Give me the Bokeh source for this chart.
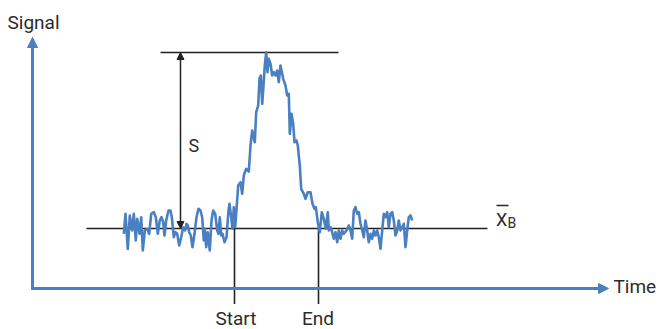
from bokeh.plotting import figure
from bokeh.models import Range1d, Arrow, NormalHead, Label
from bokeh.embed import file_html
from bokeh.resources import INLINE

# ---- data (time units, signal units) ----
time = [91.3, 93, 95.3, 97.3, 99.7, 101.3, 103.3, 104.7, 107, 108.7, 110.3, 112.3, 114.7, 116.7,
        118.7, 121.3, 123.3, 125.3, 127.3, 129, 130.7, 132, 133.7, 136, 138, 139.3, 141.3, 143,
        144.7, 146.7, 148.7, 150.7, 152.7, 154, 155.3, 156.7, 158.3, 160, 162, 164, 166, 168,
        169.7, 171.3, 172.3, 173.7, 175.3, 177.3, 179, 180.7, 182.7, 184.7, 186, 187.3, 188.7,
        190, 192, 194, 196, 197, 198.7, 200, 201.3, 202.7,
        205.7, 208, 209.7, 211.3, 213.7, 216.3, 218, 219.7, 222.3, 223.7, 225.7, 227, 228.3,
        229.7, 231, 232.3, 233.7, 235, 236.3, 238, 239.7, 241.3, 243, 244.7, 246.3, 248, 250.7,
        253, 254.7, 256.3, 257.3, 259, 260.7, 262, 264, 265.3, 267.3, 268.7, 271.3, 273, 275.3,
        278, 280, 282, 283.3, 285.3, 287.3, 289.3, 291.3, 293.3, 295.3,
        296.3, 298, 299.7, 301.3, 303, 304.7, 306.3, 308, 309.7, 311.3, 314, 316.3, 318, 319.7,
        321.3, 323, 324.7, 326.3, 328, 329.7, 331.3, 333, 334.7, 336.3, 338, 339.7, 341.3, 343,
        344.7, 346.3, 348, 349.7, 351.3, 353, 354.7, 356.3, 358, 359.7, 361.3, 363, 364.7, 366.3,
        368, 369.7, 371.3, 373, 374.7, 376.3, 378, 379.7]
signal = [54.7, 74.7, 39.7, 73, 58, 74.7, 48, 69.7, 54.7, 71.3, 38, 58, 59.7, 54.7,
          74.7, 76.3, 71.3, 54.7, 68, 71.3, 66.3, 53, 68, 78, 78, 71.3, 51.3, 56.3,
          54.7, 43, 51.3, 61.3, 58, 64.7, 63, 56.3, 53, 41.3, 54.7, 71.3, 79.7, 78,
          71.3, 48, 59.7, 41.3, 56.3, 38, 68, 78, 74.7, 58, 54.7, 71.3, 53,
          54.7, 46.3, 51.3, 78, 84.7, 71.3, 59.7, 81.3, 61.3,
          103, 106.3, 94.7, 113, 119.7, 117, 143, 158, 146.3, 176.3, 183, 209.7, 213,
          184.7, 203, 223, 236.3, 216.3, 229.7, 224.7, 213, 216.3, 213, 218, 206.3, 223, 209.7,
          203, 193, 194.7, 154.7, 174.7, 164.7, 146.3, 148, 143, 123, 99.7, 94.7, 89.7, 96.3,
          96.3, 84.7, 79.7, 81.3, 66.3, 56.3, 76.3, 69.7, 59.7, 76.3,
          58, 61.3, 56.3, 49.7, 56.3, 46.3, 58, 49.7, 58, 54.7, 58, 63, 58, 49.7,
          78, 81.3, 74.7, 76.3, 64.7, 58, 51.3, 68, 58, 46.3, 54.7, 49.7, 58, 53,
          58, 51.3, 39.7, 58, 74.7, 71.3, 76.3, 61.3, 74.7, 76.3, 68, 53, 58, 68,
          58, 61.3, 64.7, 41.3, 58, 71.3, 73, 68]

baseline_level = 60      # mean background X_B
peak_level = 236         # peak signal
start_time = 202
end_time = 286
axis_time_max = 576
axis_signal_max = 251

BLUE = "#4a7fc1"
DARK = "#222222"
TEXT = "#2b2b2b"
FONT = "Roboto"

p = figure(width=660, height=329, output_backend="svg", toolbar_location=None,
           x_range=Range1d(-32, 628), y_range=Range1d(-41, 288),
           x_axis_type=None, y_axis_type=None, min_border=0)
p.outline_line_color = None
p.grid.visible = False
p.background_fill_color = "white"
p.border_fill_color = "white"

# axes with arrowheads
p.add_layout(Arrow(end=NormalHead(size=10, fill_color=BLUE, line_color=BLUE, line_width=1),
                   x_start=0, y_start=0, x_end=0, y_end=axis_signal_max,
                   line_color=BLUE, line_width=3))
p.add_layout(Arrow(end=NormalHead(size=10, fill_color=BLUE, line_color=BLUE, line_width=1),
                   x_start=-1.5, y_start=0, x_end=axis_time_max, y_end=0,
                   line_color=BLUE, line_width=3))

# reference lines
p.segment(x0=[54], y0=[baseline_level], x1=[455], y1=[baseline_level], line_color=DARK, line_width=1.6)
p.segment(x0=[128], y0=[peak_level], x1=[306], y1=[peak_level], line_color=DARK, line_width=1.6)
p.segment(x0=[start_time, end_time], y0=[baseline_level, baseline_level],
          x1=[start_time, end_time], y1=[-15.5, -15.5], line_color=DARK, line_width=1.6)

# S double arrow
p.add_layout(Arrow(start=NormalHead(size=7, fill_color=DARK, line_color=DARK, line_width=1),
                   end=NormalHead(size=7, fill_color=DARK, line_color=DARK, line_width=1),
                   x_start=148, y_start=baseline_level, x_end=148, y_end=peak_level,
                   line_color=DARK, line_width=1.5))

# signal trace
p.line(time, signal, line_color=BLUE, line_width=2.6, line_join="round")

def lab(x, y, t, size="19px", align="left"):
    p.add_layout(Label(x=x, y=y, text=t, text_font=FONT, text_font_size=size,
                       text_color=TEXT, text_align=align, text_baseline="alphabetic"))

lab(-25, 266, "Signal")
lab(581, 2, "Time")
lab(start_time + 1.5, -29.5, "Start", align="center")
lab(end_time - 0.5, -29.5, "End", align="center")
lab(156, 143, "S", size="18px")
lab(463.5, 69, "X", size="18px")
lab(475, 66, "B", size="14px")
p.segment(x0=[464], y0=[83], x1=[476], y1=[83], line_color=TEXT, line_width=1.3)

open("out.html", "w").write(file_html(p, INLINE))
